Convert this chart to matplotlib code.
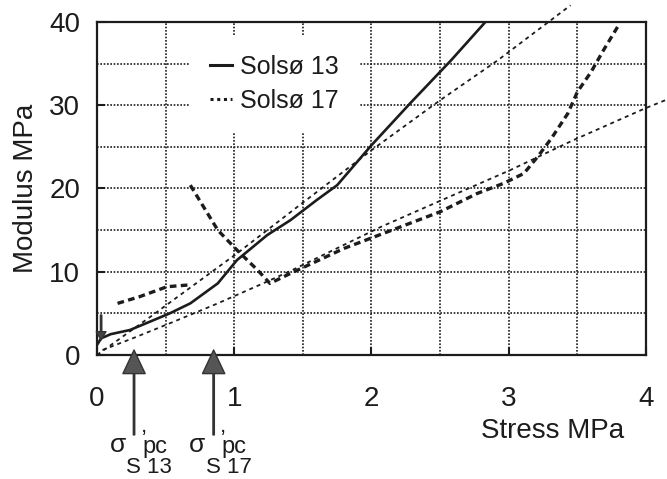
import numpy as np
from matplotlib import pyplot as plt
from matplotlib.lines import Line2D

# Solsoe 13, solid curve
s13_stress = [0.0, 0.03, 0.1, 0.24, 0.4, 0.53, 0.68, 0.88, 1.02, 1.24, 1.41,
              1.6, 1.75, 2.0, 2.28, 2.58, 2.83]
s13_modulus = [1.2, 2.0, 2.5, 3.0, 4.1, 5.0, 6.2, 8.6, 11.4, 14.4, 16.2,
               18.6, 20.4, 25.2, 30.2, 35.4, 40.0]

# Solsoe 17, thick dashed curve (two pieces)
s17a_stress = [0.15, 0.31, 0.51, 0.66]
s17a_modulus = [6.2, 7.0, 8.2, 8.4]
s17b_stress = [0.68, 0.88, 1.02, 1.17, 1.26, 1.41, 1.8, 2.07, 2.5, 2.77, 2.96,
               3.11, 3.21, 3.31, 3.43, 3.5, 3.6, 3.69, 3.8]
s17b_modulus = [20.4, 15.0, 12.6, 10.2, 8.6, 9.8, 12.8, 14.5, 17.2, 19.4, 20.6,
                21.8, 23.8, 26.0, 29.0, 31.6, 34.0, 36.6, 39.6]

# thin dotted trend lines
fit13_stress = [0.0, 0.39, 1.02, 1.5, 2.0, 2.5, 2.92, 3.45]
fit13_modulus = [0.0, 4.6, 12.2, 18.3, 24.6, 30.6, 35.4, 42.0]
fit17_stress = [0.04, 0.26, 0.53, 0.88, 1.21, 1.41, 2.07, 2.65, 3.01, 3.47, 3.99, 4.17]
fit17_modulus = [0.6, 2.0, 3.8, 6.2, 8.6, 10.1, 15.4, 19.6, 22.2, 25.8, 29.6, 30.8]

# preconsolidation stress markers
pc_stress = [0.27, 0.85]
pc_labels = ['S 13', 'S 17']

legend_labels = ['Solsø 13', 'Solsø 17']

INK = '#1c1c1c'


def main():
    plt.rcParams['font.family'] = ['Liberation Sans', 'DejaVu Sans']

    fig = plt.figure(figsize=(6.67, 4.79), dpi=100)
    ax = fig.add_axes([0.1454, 0.2589, 0.8231, 0.6952])

    ax.set_xlim(0, 4)
    ax.set_ylim(0, 40)
    ax.set_xticks([0, 1, 2, 3, 4])
    ax.set_yticks([0, 10, 20, 30, 40])
    ax.set_xticks(np.arange(0, 4.01, 0.5), minor=True)
    ax.set_yticks(np.arange(0, 40.1, 5), minor=True)
    ax.grid(True, which='both', color=INK, linestyle=(0, (1, 1)), linewidth=1.2)
    ax.set_axisbelow(True)

    ax.tick_params(which='major', direction='in', length=6, width=1.5,
                   labelsize=20, colors=INK)
    ax.tick_params(which='minor', length=0)
    ax.tick_params(axis='x', pad=22)
    ax.tick_params(axis='y', pad=12)
    for spine in ax.spines.values():
        spine.set_linewidth(1.6)
        spine.set_color(INK)

    # trend lines
    ax.plot(fit13_stress, fit13_modulus, color=INK, lw=1.3,
            linestyle=(0, (2.2, 2.2)), clip_on=False)
    ax.plot(fit17_stress, fit17_modulus, color=INK, lw=1.3,
            linestyle=(0, (2.2, 2.2)), clip_on=False)

    # measured curves
    ax.plot(s13_stress, s13_modulus, color=INK, lw=1.9)
    ax.plot(s17a_stress, s17a_modulus, color=INK, lw=2.4, linestyle=(0, (2, 1.3)))
    ax.plot(s17b_stress, s17b_modulus, color=INK, lw=2.4, linestyle=(0, (2, 1.3)))

    handles = [Line2D([], [], color=INK, lw=2.2),
               Line2D([], [], color=INK, lw=2.2, linestyle=(0, (1, 1.2)))]
    leg = ax.legend(handles, legend_labels, loc='upper left',
                    bbox_to_anchor=(0.169, 0.961), borderaxespad=0,
                    fontsize=18, handlelength=0.9, handletextpad=0.3,
                    labelspacing=0.4, borderpad=0.8, frameon=True,
                    facecolor='white', edgecolor='none', framealpha=1)
    for t in leg.get_texts():
        t.set_color(INK)

    # small arrow at the origin
    ax.annotate('', xy=(0.03, 1.8), xytext=(0.03, 4.8),
                arrowprops=dict(facecolor='#444444', edgecolor='#333333',
                                width=1.0, headwidth=7, headlength=6, shrink=0))

    # preconsolidation arrows and labels
    for x, lab in zip(pc_stress, pc_labels):
        ax.annotate('', xy=(x, 0.6), xytext=(x, -9.6), annotation_clip=False,
                    arrowprops=dict(facecolor='#555555', edgecolor='#333333',
                                    width=1.0, headwidth=16, headlength=17,
                                    shrink=0))
        ax.text(x - 0.12, -10.8, 'σ', fontsize=19, ha='center', va='center',
                color=INK, clip_on=False)
        ax.text(x + 0.07, -8.6, ',', fontsize=16, ha='center', va='center',
                color=INK, clip_on=False)
        ax.text(x + 0.15, -11.0, 'pc', fontsize=17, ha='center', va='center',
                color=INK, clip_on=False)
        ax.text(x + 0.11, -13.5, lab, fontsize=16, ha='center', va='center',
                color=INK, clip_on=False)

    ax.set_xlabel('Stress MPa', fontsize=20, color=INK)
    ax.xaxis.set_label_coords(0.829, -0.19)
    ax.set_ylabel('Modulus MPa', fontsize=20, color=INK)
    ax.yaxis.set_label_coords(-0.105, 0.5)

    fig.savefig('out.png', dpi=100, facecolor='white')


if __name__ == '__main__':
    main()
